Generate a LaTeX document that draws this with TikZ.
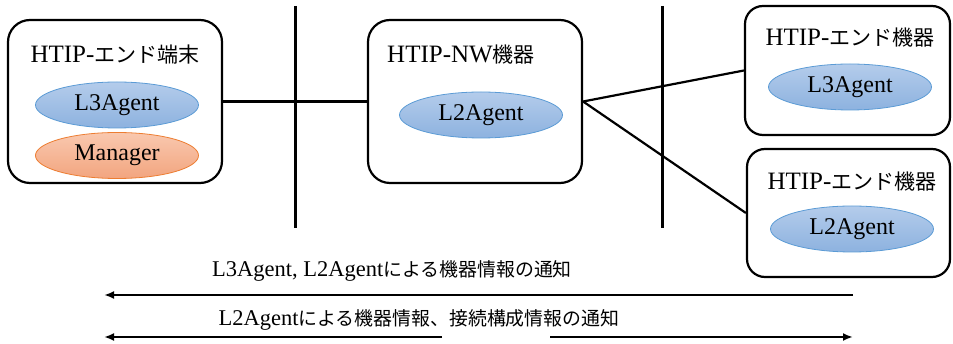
\documentclass[tikz,border=0pt]{standalone}
\usepackage{fontspec}
\setmainfont{Liberation Serif}
\newfontfamily\jp[Scale=0.84]{Noto Sans CJK JP}
\usetikzlibrary{shapes.geometric,arrows.meta}

\definecolor{agentTop}{HTML}{B4CCEB}
\definecolor{agentBot}{HTML}{8DB2DF}
\definecolor{agentLine}{HTML}{5B9BD5}
\definecolor{mgrTop}{HTML}{F9C8AF}
\definecolor{mgrBot}{HTML}{F2A57F}
\definecolor{mgrLine}{HTML}{ED7D31}

\tikzset{
  device/.style={draw, line width=2.2pt, rounded corners=22pt, inner sep=0pt},
  title/.style={inner sep=0pt, font=\fontsize{25}{28}\selectfont},
  agent/.style={ellipse, draw=agentLine, line width=0.8pt, top color=agentTop,
    bottom color=agentBot, minimum width=163pt, minimum height=46pt, inner sep=0pt,
    font=\fontsize{24}{28}\selectfont},
  manager/.style={agent, draw=mgrLine, top color=mgrTop, bottom color=mgrBot},
  link/.style={line width=2.2pt},
  segment/.style={line width=3pt},
  notice/.style={line width=2.2pt},
  tip/.style={-{Latex[length=10pt,width=8pt]}},
  label/.style={inner sep=0pt, font=\fontsize{22.5}{26}\selectfont}
}

\begin{document}
\begin{tikzpicture}[x=1pt,y=-1pt]
  \useasboundingbox (0,0) rectangle (953,344);

  % network segments
  \coordinate (s1top) at (295,6);
  \coordinate (s1bot) at (295,228);
  \coordinate (s2top) at (662,6);
  \coordinate (s2bot) at (662,228);
  \draw[segment] (s1top) -- (s1bot);
  \draw[segment] (s2top) -- (s2bot);

  % devices
  \node[device, minimum width=214pt, minimum height=163pt] (term) at (115,101.5) {};
  \node[device, minimum width=214pt, minimum height=163pt] (nw) at (475,101.5) {};
  \node[device, minimum width=205pt, minimum height=129pt, rounded corners=18pt] (endA) at (847.5,70.5) {};
  \node[device, minimum width=203pt, minimum height=128pt, rounded corners=18pt] (endB) at (848.5,213) {};

  % device titles
  \node[title] (termT) at (115,55) {HTIP-{\jp エンド端末}};
  \node[title] (nwT) at (461,55) {HTIP-NW{\jp 機器}};
  \node[title] (endAT) at (850,38) {HTIP-{\jp エンド機器}};
  \node[title] (endBT) at (852,182) {HTIP-{\jp エンド機器}};

  % agents and manager
  \node[agent] (termL3) at (117,105) {L3Agent};
  \node[manager] (termMgr) at (117,155.5) {Manager};
  \node[agent] (nwL2) at (481,115) {L2Agent};
  \node[agent] (endAL3) at (850,87) {L3Agent};
  \node[agent] (endBL2) at (852,229) {L2Agent};

  % links
  \draw[link] (term.east) -- (nw.west);
  \draw[link] (nw.east) -- (endA.west);
  \draw[link] (nw.east) -- (endB.west);

  % notifications
  \coordinate (n1from) at (853,295);
  \coordinate (n1to) at (104,295);
  \draw[notice, tip] (n1from) -- (n1to);
  \node[label] (n1) at (392,271) {L3Agent, L2Agent{\jp による機器情報の通知}};

  \coordinate (n2a) at (442,337);
  \coordinate (n2left) at (104,337);
  \coordinate (n2b) at (550,337);
  \coordinate (n2right) at (853,337);
  \draw[notice, tip] (n2a) -- (n2left);
  \draw[notice, tip] (n2b) -- (n2right);
  \node[label] (n2) at (419,320) {L2Agent{\jp による機器情報、接続構成情報の通知}};
\end{tikzpicture}
\end{document}
